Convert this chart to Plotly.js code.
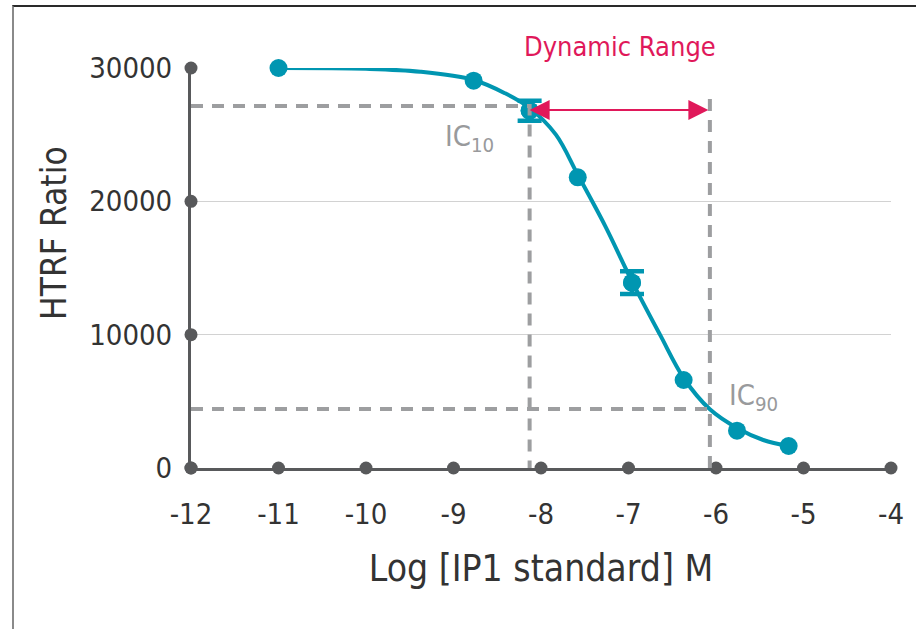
<!DOCTYPE html>
<html>
<head>
<meta charset="utf-8">
<script src="https://cdn.plot.ly/plotly-3.0.1.min.js"></script>
<style>
  html, body { margin: 0; padding: 0; background: #fff; }
  #chart { width: 916px; height: 629px; }
  #frame { position: absolute; left: 12px; top: 5px; width: 904px; height: 624px;
           border-top: 2px solid #2a2a2a; border-left: 2px solid #8a8a8a; pointer-events: none; }
</style>
</head>
<body>
<div id="chart"></div>
<div id="frame"></div>
<script>
// Measured data points (log M, HTRF ratio)
const logConc   = [-11.0, -8.77, -8.13, -7.58, -6.96, -6.37, -5.76, -5.17];
const htrf      = [30000, 29050, 26800, 21800, 13900, 6600, 2800, 1650];
// Error bars (only two points carry visible bars)
const errX      = [-8.13, -6.96];
const errY      = [26800, 13900];
const errVal    = [750, 850];

// Fitted curve
const curveX = [-11.0, -10.0, -9.38, -8.77, -8.41, -8.13, -7.83, -7.58, -7.27, -6.96, -6.64, -6.37, -6.07, -5.76, -5.46, -5.17];
const curveY = [30000, 29940, 29720, 29100, 28100, 27000, 25000, 22000, 18200, 14000, 10000, 6750, 4400, 3000, 2100, 1650];

// Axis ticks
const xTicks = [-12, -11, -10, -9, -8, -7, -6, -5, -4];
const yTicks = [0, 10000, 20000, 30000];

// IC values
const ic10X = -8.13, ic10Y = 27150;
const ic90X = -6.07, ic90Y = 4425;
const ic90LineTop = 27800;
const arrowY = 26850;

const FONT = '"DejaVu Sans Condensed", "Liberation Sans Narrow", sans-serif';
const TEAL = '#0096b1';
const DARK = '#58595b';
const DASH = '#9d9ea0';
const RED = '#e0185a';
const TXT = '#333333';

const traces = [
  {
    x: xTicks, y: xTicks.map(() => 0), mode: 'markers', type: 'scatter',
    marker: { color: DARK, size: 13 }, cliponaxis: false, hoverinfo: 'skip'
  },
  {
    x: yTicks.map(() => -12), y: yTicks, mode: 'markers', type: 'scatter',
    marker: { color: DARK, size: 13 }, cliponaxis: false, hoverinfo: 'skip'
  },
  {
    x: curveX, y: curveY, mode: 'lines', type: 'scatter',
    line: { color: TEAL, width: 4, shape: 'spline', smoothing: 1 }, cliponaxis: false
  },
  {
    x: errX, y: errY, mode: 'markers', type: 'scatter',
    marker: { color: TEAL, size: 18 },
    error_y: { type: 'data', array: errVal, visible: true, color: TEAL, thickness: 4.5, width: 12 },
    cliponaxis: false
  },
  {
    x: logConc, y: htrf, mode: 'markers', type: 'scatter',
    marker: { color: TEAL, size: 18 }, cliponaxis: false
  },
  {
    x: [-12, ic10X, ic10X], y: [ic10Y, ic10Y, 0], mode: 'lines', type: 'scatter',
    line: { color: DASH, width: 4, dash: '12px,9px' }, cliponaxis: false
  },
  {
    x: [-12, ic90X], y: [ic90Y, ic90Y], mode: 'lines', type: 'scatter',
    line: { color: DASH, width: 4, dash: '12px,9px' }, cliponaxis: false
  },
  {
    x: [ic90X, ic90X], y: [0, ic90LineTop], mode: 'lines', type: 'scatter',
    line: { color: DASH, width: 4, dash: '12px,9px' }, cliponaxis: false
  }
];

const layout = {
  width: 916, height: 629,
  margin: { l: 191, r: 25, t: 68, b: 161 },
  paper_bgcolor: '#fff', plot_bgcolor: '#fff',
  showlegend: false,
  font: { family: FONT, color: TXT, size: 29 },
  xaxis: {
    range: [-12, -4], tickvals: xTicks, ticktext: xTicks.map(String),
    showgrid: false, zeroline: false, showline: true, linecolor: DARK, linewidth: 3,
    ticks: '', ticklabelstandoff: 18,
    tickfont: { family: FONT, size: 29, color: TXT },
    title: { text: 'Log [IP1 standard] M', font: { family: FONT, size: 37, color: TXT }, standoff: 26 }
  },
  yaxis: {
    range: [0, 30000], tickvals: yTicks, ticktext: yTicks.map(String),
    showgrid: true, gridcolor: '#d2d2d2', gridwidth: 1.5,
    zeroline: false, showline: true, linecolor: DARK, linewidth: 3,
    ticks: '', ticklabelstandoff: 10,
    tickfont: { family: FONT, size: 29, color: TXT }
  },
  annotations: [
    {
      x: (54 - 191) / 700, y: (468 - 233) / 400, xref: 'paper', yref: 'paper',
      text: 'HTRF Ratio', textangle: -90, showarrow: false,
      xanchor: 'center', yanchor: 'middle',
      font: { family: FONT, size: 35, color: TXT }
    },
    {
      x: ic10X, y: arrowY, ax: ic90X, ay: arrowY, xref: 'x', yref: 'y', axref: 'x', ayref: 'y',
      text: '', showarrow: true, arrowhead: 2, arrowside: 'end+start', arrowsize: 2,
      arrowwidth: 2, arrowcolor: RED, standoff: 0, startstandoff: 0
    },
    {
      x: (ic10X + ic90X) / 2, y: 30000, xref: 'x', yref: 'y', yshift: 22,
      text: 'Dynamic Range', showarrow: false,
      font: { family: FONT, size: 27, color: RED }
    },
    {
      x: ic10X, y: ic10Y, xref: 'x', yref: 'y', xshift: -60, yshift: -32,
      text: 'IC<sub>10</sub>', showarrow: false, xanchor: 'center',
      font: { family: FONT, size: 29, color: '#999a9c' }
    },
    {
      x: ic90X, y: ic90Y, xref: 'x', yref: 'y', xshift: 44, yshift: 12,
      text: 'IC<sub>90</sub>', showarrow: false, xanchor: 'center',
      font: { family: FONT, size: 29, color: '#999a9c' }
    }
  ]
};

Plotly.newPlot('chart', traces, layout, { displayModeBar: false, staticPlot: true });
</script>
</body>
</html>
